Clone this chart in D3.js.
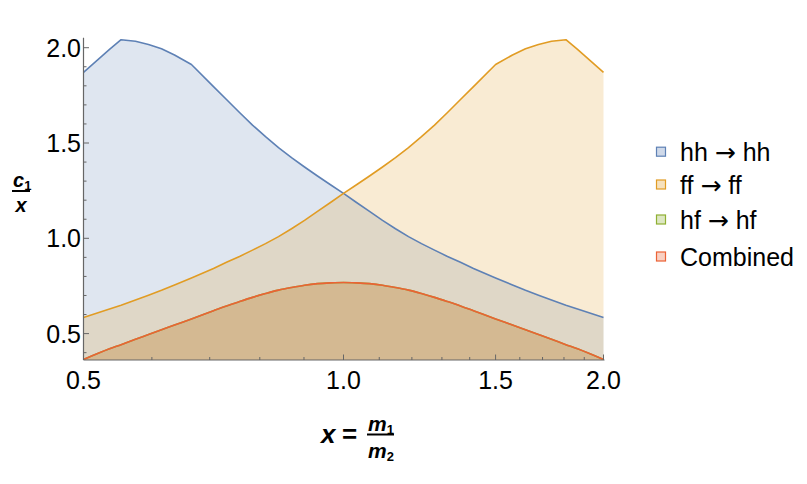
<!DOCTYPE html>
<html><head><meta charset="utf-8">
<script src="https://cdn.jsdelivr.net/npm/d3@7"></script>
<style>
body{margin:0;background:#fff;}
svg{display:block;font-family:"Liberation Sans",Arial,sans-serif;}
</style></head>
<body><svg id="chart" width="807" height="484"></svg>
<script>
// ---- data ----
const xs = [0.5, 0.5359, 0.5527, 0.5743, 0.5946, 0.6156, 0.6373, 0.6667, 0.7071, 0.7320, 0.7579, 0.7846, 0.8123, 0.8409, 0.8706, 0.9013, 0.9330, 0.9659, 1.0,
            1.0353, 1.0718, 1.1096, 1.1487, 1.1892, 1.2311, 1.2746, 1.3195, 1.3660, 1.4142, 1.5, 1.5692, 1.6245, 1.6818, 1.7411, 1.8093, 1.8661, 2.0];
const hhhh = [1.871, 1.991, 2.042, 2.034, 2.017, 1.994, 1.962, 1.912, 1.796, 1.728, 1.660, 1.594, 1.533, 1.476, 1.423, 1.374, 1.327, 1.281, 1.236,
              1.188, 1.141, 1.094, 1.050, 1.009, 0.972, 0.938, 0.905, 0.874, 0.842, 0.792, 0.755, 0.727, 0.701, 0.676, 0.649, 0.629, 0.585];
const ffff = [0.585, 0.629, 0.649, 0.676, 0.701, 0.727, 0.755, 0.792, 0.842, 0.874, 0.905, 0.938, 0.972, 1.009, 1.050, 1.094, 1.141, 1.188, 1.236,
              1.281, 1.327, 1.374, 1.423, 1.476, 1.533, 1.594, 1.660, 1.728, 1.796, 1.912, 1.962, 1.994, 2.017, 2.034, 2.042, 1.991, 1.871];
const hfhf = [0.364, 0.420, 0.442, 0.470, 0.495, 0.520, 0.545, 0.577, 0.620, 0.645, 0.668, 0.690, 0.710, 0.728, 0.742, 0.754, 0.762, 0.766, 0.768,
              0.766, 0.762, 0.754, 0.742, 0.728, 0.710, 0.690, 0.668, 0.645, 0.620, 0.577, 0.545, 0.520, 0.495, 0.470, 0.442, 0.420, 0.364];
const combined = [0.364, 0.420, 0.442, 0.470, 0.495, 0.520, 0.545, 0.577, 0.620, 0.645, 0.668, 0.690, 0.710, 0.728, 0.742, 0.754, 0.762, 0.766, 0.768,
              0.766, 0.762, 0.754, 0.742, 0.728, 0.710, 0.690, 0.668, 0.645, 0.620, 0.577, 0.545, 0.520, 0.495, 0.470, 0.442, 0.420, 0.364];
const seriesNames = [["hh", "hh"], ["ff", "ff"], ["hf", "hf"], ["Combined", null]];
const xMajor = [0.5, 1.0, 1.5, 2.0];
const xMinor = [0.6, 0.7, 0.8, 0.9, 1.1, 1.2, 1.3, 1.4, 1.6, 1.7, 1.8, 1.9];
const yMajor = [0.5, 1.0, 1.5, 2.0];
const yMinor = [0.4, 0.6, 0.7, 0.8, 0.9, 1.1, 1.2, 1.3, 1.4, 1.6, 1.7, 1.8, 1.9];

const colors = ["#5E81B5", "#E19C24", "#8FB032", "#EB6235"];
const seriesVals = [hhhh, ffff, hfhf, combined];
const curves = [d3.curveLinear, d3.curveLinear, d3.curveMonotoneX, d3.curveMonotoneX];

const svg = d3.select("#chart");
const L = 83.5, R = 603.5, B = 360, T = 39.7;
const x = d3.scaleLog().base(2).domain([0.5, 2]).range([L, R]);
const y = d3.scaleLinear().domain([0.3615, 2.042]).range([B, T]);

svg.append("defs").append("clipPath").attr("id","clip")
  .append("rect").attr("x",L).attr("y",T-3).attr("width",R-L+1).attr("height",B-T+3);

const g = svg.append("g").attr("clip-path","url(#clip)");
seriesVals.forEach((vals,k)=>{
  const area = d3.area().curve(curves[k]).x((d,i)=>x(xs[i])).y0(y(0.0)).y1(d=>y(d));
  g.append("path").attr("d", area(vals)).attr("fill", colors[k]).attr("fill-opacity",0.2);
});
seriesVals.forEach((vals,k)=>{
  const line = d3.line().curve(curves[k]).x((d,i)=>x(xs[i])).y(d=>y(d));
  g.append("path").attr("d", line(vals)).attr("fill","none").attr("stroke", colors[k])
    .attr("stroke-width",1.6).attr("stroke-linejoin","round");
});

// axes
const axisCol = "#666";
svg.append("line").attr("x1",L).attr("x2",R+1).attr("y1",B).attr("y2",B).attr("stroke",axisCol).attr("stroke-width",1.2);
svg.append("line").attr("x1",L).attr("x2",L).attr("y1",B).attr("y2",T-2).attr("stroke",axisCol).attr("stroke-width",1.2);

xMajor.forEach(v=>{
  svg.append("line").attr("x1",x(v)).attr("x2",x(v)).attr("y1",B).attr("y2",B-5.5).attr("stroke",axisCol);
  svg.append("text").attr("x",x(v)).attr("y",389).attr("text-anchor","middle")
    .attr("font-size",25).attr("fill","#000").text(d3.format(".1f")(v));
});
xMinor.forEach(v=>{
  svg.append("line").attr("x1",x(v)).attr("x2",x(v)).attr("y1",B).attr("y2",B-3).attr("stroke",axisCol);
});
yMajor.forEach(v=>{
  svg.append("line").attr("x1",L).attr("x2",L+5.5).attr("y1",y(v)).attr("y2",y(v)).attr("stroke",axisCol);
  svg.append("text").attr("x",81).attr("y",y(v)).attr("dy","0.36em").attr("text-anchor","end")
    .attr("font-size",25).attr("fill","#000").text(d3.format(".1f")(v));
});
yMinor.forEach(v=>{
  svg.append("line").attr("x1",L).attr("x2",L+3).attr("y1",y(v)).attr("y2",y(v)).attr("stroke",axisCol);
});

// y label c1/x
const yl = svg.append("g").attr("font-weight","bold").attr("font-style","italic").attr("fill","#000");
const c1 = yl.append("text").attr("x",13).attr("y",187).attr("font-size",20);
c1.append("tspan").text("c");
c1.append("tspan").attr("font-size",13).attr("dy",3).attr("font-style","normal").text("1");
yl.append("line").attr("x1",12).attr("x2",30).attr("y1",191).attr("y2",191).attr("stroke","#000").attr("stroke-width",2);
yl.append("text").attr("x",21).attr("y",212).attr("text-anchor","middle").attr("font-size",20).text("x");

// x label x = m1/m2
const xl = svg.append("g").attr("font-weight","bold").attr("font-style","italic").attr("fill","#000");
xl.append("text").attr("x",321).attr("y",443).attr("font-size",26).text("x");
xl.append("text").attr("x",342).attr("y",443).attr("font-size",26).attr("font-style","normal").text("=");
const m1 = xl.append("text").attr("x",368).attr("y",431).attr("font-size",21);
m1.append("tspan").text("m");
m1.append("tspan").attr("font-size",13).attr("dy",3).attr("font-style","normal").text("1");
xl.append("line").attr("x1",367).attr("x2",394).attr("y1",434.5).attr("y2",434.5).attr("stroke","#000").attr("stroke-width",2);
const m2 = xl.append("text").attr("x",368).attr("y",458).attr("font-size",21);
m2.append("tspan").text("m");
m2.append("tspan").attr("font-size",13).attr("dy",3).attr("font-style","normal").text("2");

// legend
const legY = [151.7, 184.5, 219.5, 256.5];
seriesNames.forEach((nm,k)=>{
  svg.append("rect").attr("x",656.5).attr("y",legY[k]-4.5).attr("width",9).attr("height",9)
    .attr("fill", d3.interpolateRgb("#fff", colors[k])(0.3)).attr("stroke", colors[k]).attr("stroke-width",1.2);
  const t = svg.append("text").attr("x",680).attr("y",legY[k]).attr("dy","0.36em").attr("font-size",25).attr("fill","#000");
  t.append("tspan").text(nm[0]);
  if (nm[1]) {
    t.append("tspan").text(" ");
    t.append("tspan").style("font-family","'DejaVu Sans'").attr("font-size",25).text("\u2192");
    t.append("tspan").text(" " + nm[1]);
  }
});
</script></body></html>
